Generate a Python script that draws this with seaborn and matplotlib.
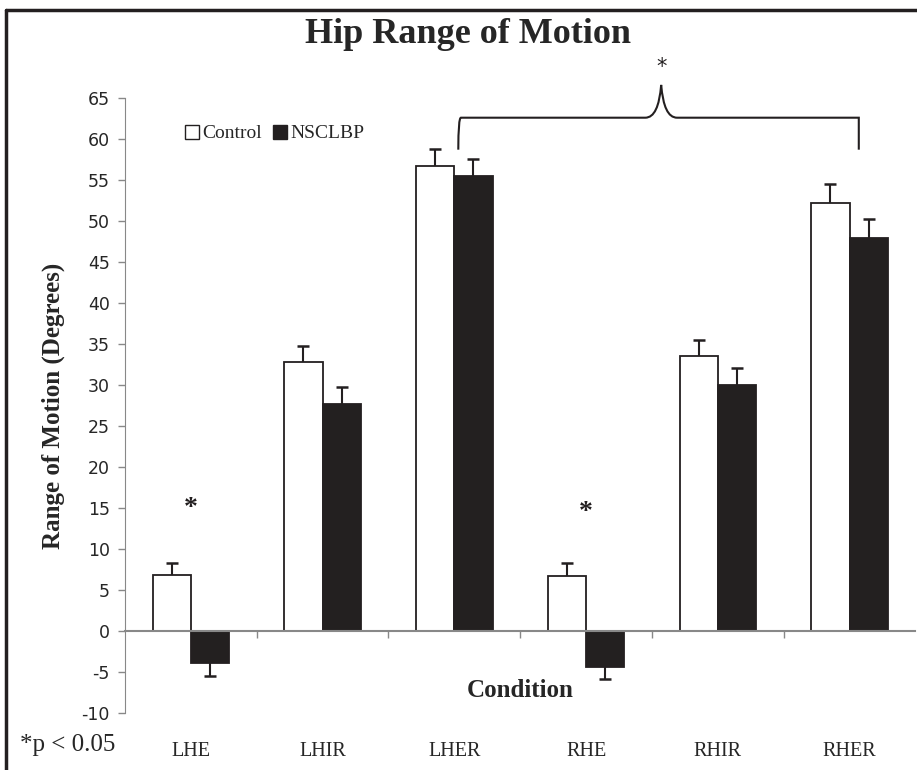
import numpy as np
import pandas as pd
import seaborn as sns
import matplotlib.pyplot as plt
from matplotlib.path import Path
from matplotlib.patches import PathPatch
from matplotlib.lines import Line2D

conditions = ["LHE", "LHIR", "LHER", "RHE", "RHIR", "RHER"]
groups = ["Control", "NSCLBP"]
control_mean = [6.8, 32.8, 56.7, 6.7, 33.5, 52.2]
control_err = [1.5, 2.0, 2.1, 1.6, 2.0, 2.3]
nsclbp_mean = [-3.9, 27.7, 55.5, -4.4, 30.0, 47.9]
nsclbp_err = [1.6, 2.0, 2.1, 1.5, 2.1, 2.4]

df = pd.DataFrame({
    "Condition": conditions * 2,
    "Group": ["Control"] * 6 + ["NSCLBP"] * 6,
    "ROM": control_mean + nsclbp_mean,
    "err": control_err + nsclbp_err,
})

sns.set_style("white")
serif = ["Liberation Serif", "DejaVu Serif"]
narrow = ["Liberation Sans Narrow", "DejaVu Sans"]

fig = plt.figure(figsize=(9.17, 7.70), dpi=100)
ax = fig.add_axes([0.1363, 0.074, 0.862, 0.7987])

dark = "#231f20"
sns.barplot(data=df, x="Condition", y="ROM", hue="Group", order=conditions,
            hue_order=groups, palette=["white", dark], width=0.58,
            edgecolor=dark, linewidth=1.3, errorbar=None, legend=False, ax=ax)

# error bars (one-sided, away from zero, cap only on the outer end)
for gi, g in enumerate(groups):
    sub = df[df["Group"] == g]
    for bar, y, e in zip(ax.containers[gi], sub["ROM"].values, sub["err"].values):
        x = bar.get_x() + bar.get_width() / 2
        yerr = [[e], [0]] if y < 0 else [[0], [e]]
        _, caps, _ = ax.errorbar([x], [y], yerr=yerr, fmt="none", ecolor=dark,
                                 elinewidth=1.5, capsize=4.5, capthick=1.8)
        caps[1 if y < 0 else 0].set_visible(False)

ax.set_xlim(-0.5, 5.5)
ax.set_ylim(-10, 65)
ax.set_yticks(np.arange(-10, 66, 5))
ax.set_yticklabels([str(v) for v in range(-10, 66, 5)], family=narrow, fontsize=12.5)
ax.tick_params(axis="y", direction="out", length=5, color="#888888", width=1, left=True, pad=6)

for s in ["top", "right"]:
    ax.spines[s].set_visible(False)
ax.spines["left"].set_color("#888888")
ax.spines["bottom"].set_position(("data", 0))
ax.spines["bottom"].set_color("#888888")
ax.spines["bottom"].set_linewidth(1.5)

ax.set_xticks([])
ax.set_xticks(np.arange(0.5, 5, 1), minor=True)
ax.tick_params(axis="x", which="minor", direction="out", length=5, color="#888888", width=1, bottom=True)
ax.set_xlabel("")
ax.set_ylabel("Range of Motion (Degrees)", family=serif, fontweight="bold", fontsize=18, labelpad=12)

sec = ax.secondary_xaxis(-0.0)
sec.spines["bottom"].set_visible(False)
sec.set_xticks(range(len(conditions)))
sec.set_xticklabels(conditions, family=serif, fontsize=14.5)
sec.tick_params(length=0, pad=21)

ax.text(2.5, -7.3, "Condition", ha="center", va="center", family=serif,
        fontweight="bold", fontsize=18)

# legend
handles = [Line2D([], [], marker="s", ls="none", markerfacecolor="white", markeredgecolor=dark, markersize=10),
           Line2D([], [], marker="s", ls="none", markerfacecolor=dark, markeredgecolor=dark, markersize=10)]
ax.legend(handles, groups, loc="upper left", bbox_to_anchor=(0.05, 0.985), ncol=2, frameon=False,
          handletextpad=0.05, columnspacing=0.4, handlelength=1.0, prop={"family": serif, "size": 14})

# stars
ax.text(0, 14.9, "*", ha="center", va="center", fontsize=20, color=dark, family=serif, fontweight="bold")
ax.text(3, 14.4, "*", ha="center", va="center", fontsize=20, color=dark, family=serif, fontweight="bold")

# curly brace over LHER..RHER
x0, x1, xm = 2.03, 5.07, 3.57
yb, yt, ye = 62.6, 66.6, 58.7
verts = [(x0, ye), (x0, yb), (x0 + 0.02, yb), (x0 + 0.12, yb),
         (xm - 0.12, yb), (xm - 0.02, yb), (xm, yt),
         (xm + 0.02, yb), (xm + 0.12, yb),
         (x1 - 0.12, yb), (x1 - 0.02, yb), (x1, yb), (x1, ye)]
codes = [Path.MOVETO, Path.CURVE3, Path.CURVE3, Path.LINETO,
         Path.LINETO, Path.CURVE3, Path.CURVE3,
         Path.CURVE3, Path.CURVE3,
         Path.LINETO, Path.CURVE3, Path.CURVE3, Path.LINETO]
ax.add_patch(PathPatch(Path(verts, codes), fill=False, lw=1.5, ec=dark, clip_on=False))
ax.text(xm, 68.8, "*", ha="center", va="center", fontsize=15, color=dark,
        family=["DejaVu Sans"], clip_on=False)

fig.text(0.51, 0.955, "Hip Range of Motion", ha="center", va="center", family=serif,
         fontweight="bold", fontsize=26)
fig.text(0.022, 0.032, "*p < 0.05", ha="left", va="center", family=serif, fontsize=18)

# outer frame
fig.add_artist(Line2D([0.007, 0.007], [0, 0.987], color=dark, lw=2.5, transform=fig.transFigure))
fig.add_artist(Line2D([0.007, 1.0], [0.987, 0.987], color=dark, lw=2.5, transform=fig.transFigure))

fig.savefig("out.png", dpi=100)
